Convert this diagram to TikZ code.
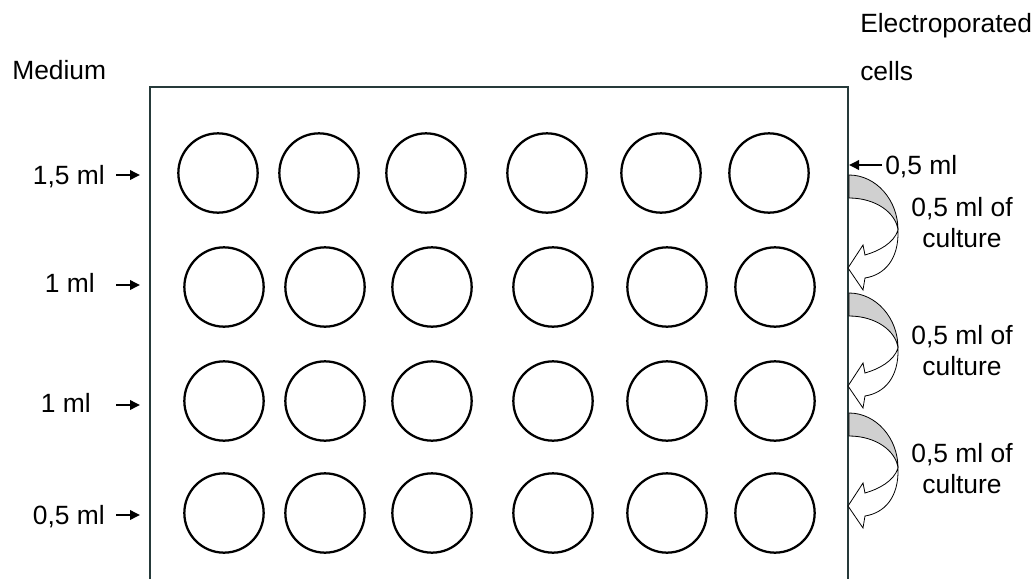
\documentclass[tikz,border=0pt]{standalone}
\usepackage{fontspec}
\setmainfont{Liberation Sans}
\usetikzlibrary{arrows.meta}
\definecolor{PlateEdge}{RGB}{38,58,58}
\definecolor{FoldGray}{RGB}{208,208,208}

\begin{document}
\begin{tikzpicture}[x=0.75pt,y=-0.75pt,>=Latex,
  lbl/.style={inner sep=0pt,font=\fontsize{19.8}{23.25}\selectfont},
  well/.style={draw,circle,line width=1.7pt,minimum size=59.5pt,inner sep=0pt},
  feed/.style={-{Triangle[length=7.5pt,width=7pt]},line width=1.8pt}]
\useasboundingbox (0,0) rectangle (1036,579);
\draw[PlateEdge,line width=2pt] (150,579) -- (150,87) -- (848,87) -- (848,579);
% wells, 4 rows x 6
\foreach \r/\y/\dx in {1/173/-6,2/287/0,3/401/0,4/513/0}
  \foreach \c/\x in {1/224,2/325,3/432,4/553,5/667,6/775}
    \node[well] (w\r\c) at (\x+\dx,\y) {};
% medium side
\node[lbl,anchor=base west] (med) at (12,79) {Medium};
\node[lbl,anchor=base east] (v1) at (105,184) {1,5 ml};
\node[lbl,anchor=base east] (v2) at (95,292) {1 ml};
\node[lbl,anchor=base east] (v3) at (91,412) {1 ml};
\node[lbl,anchor=base east] (v4) at (105,524) {0,5 ml};
\foreach \i/\y in {1/175,2/285,3/405,4/515}{
  \coordinate (s\i) at (116,\y); \coordinate (t\i) at (140,\y);
  \draw[feed] (s\i) -- (t\i);}
% cells side
\node[lbl,anchor=north west,align=left,font=\fontsize{19.8}{36}\selectfont] (ec) at (860,13) {Electroporated\\cells};
\node[lbl,anchor=base west] (c0) at (885,174) {0,5 ml};
\coordinate (cs) at (882,165); \coordinate (ce) at (849,165);
\draw[feed] (cs) -- (ce);
\foreach \t in {175,293,413}{
  \begin{scope}[shift={(849,\t)},line width=0.6pt]
    \draw[fill=FoldGray] (0,0) .. controls (27,0) and (49,25) .. (49,55) .. controls (47,38) and (27,23) .. (0,23) -- cycle;
    \draw[fill=white] (49,55) .. controls (50,85) and (35,100) .. (16,103) -- (14,115) -- (-1,93) -- (14,70) -- (16,80) .. controls (30,76) and (45,68) .. (49,55) -- cycle;
  \end{scope}}
\node[lbl,anchor=north,align=center] (cul1) at (962,197) {0,5 ml of\\culture};
\node[lbl,anchor=north,align=center] (cul2) at (962,325) {0,5 ml of\\culture};
\node[lbl,anchor=north,align=center] (cul3) at (962,443) {0,5 ml of\\culture};
\end{tikzpicture}
\end{document}
